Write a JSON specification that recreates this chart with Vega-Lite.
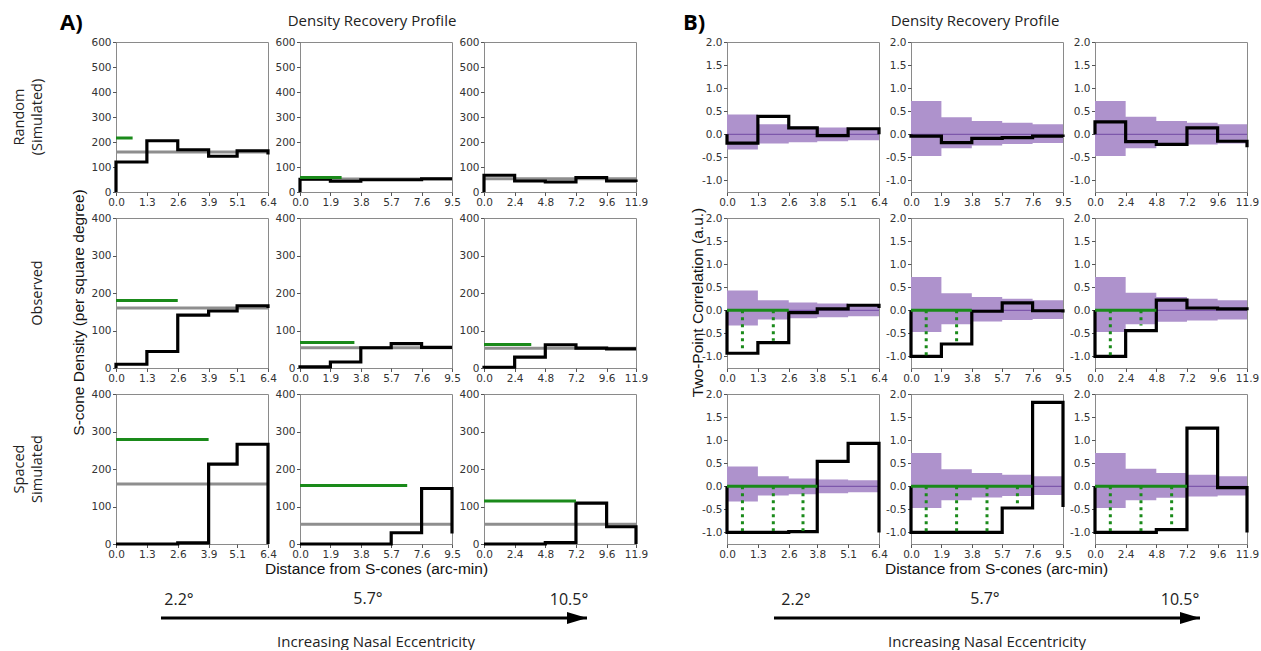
{
"$schema":"https://vega.github.io/schema/vega-lite/v6.json",
"padding":{"left":8,"top":11,"right":5,"bottom":0},
"background":"white",
"datasets":{
"line":[
{"p":"A11","i":0,"x":0,"y":0},{"p":"A11","i":1,"x":0,"y":120},{"p":"A11","i":2,"x":1.3,"y":205},{"p":"A11","i":3,"x":2.6,"y":169},{"p":"A11","i":4,"x":3.9,"y":143},{"p":"A11","i":5,"x":5.1,"y":165},{"p":"A11","i":6,"x":6.4,"y":150},
{"p":"A12","i":0,"x":0,"y":0},{"p":"A12","i":1,"x":0,"y":51},{"p":"A12","i":2,"x":1.9,"y":43},{"p":"A12","i":3,"x":3.8,"y":49},{"p":"A12","i":4,"x":5.7,"y":49},{"p":"A12","i":5,"x":7.6,"y":53},{"p":"A12","i":6,"x":9.5,"y":53},
{"p":"A13","i":0,"x":0,"y":0},{"p":"A13","i":1,"x":0,"y":67},{"p":"A13","i":2,"x":2.4,"y":44},{"p":"A13","i":3,"x":4.8,"y":40},{"p":"A13","i":4,"x":7.2,"y":58},{"p":"A13","i":5,"x":9.6,"y":44},{"p":"A13","i":6,"x":11.9,"y":40},
{"p":"A21","i":0,"x":0,"y":0},{"p":"A21","i":1,"x":0,"y":10},{"p":"A21","i":2,"x":1.3,"y":44},{"p":"A21","i":3,"x":2.6,"y":141},{"p":"A21","i":4,"x":3.9,"y":152},{"p":"A21","i":5,"x":5.1,"y":166},{"p":"A21","i":6,"x":6.4,"y":160},
{"p":"A22","i":0,"x":0,"y":0},{"p":"A22","i":1,"x":0,"y":3},{"p":"A22","i":2,"x":1.9,"y":16},{"p":"A22","i":3,"x":3.8,"y":54},{"p":"A22","i":4,"x":5.7,"y":65},{"p":"A22","i":5,"x":7.6,"y":55},{"p":"A22","i":6,"x":9.5,"y":55},
{"p":"A23","i":0,"x":0,"y":0},{"p":"A23","i":1,"x":0,"y":2},{"p":"A23","i":2,"x":2.4,"y":29},{"p":"A23","i":3,"x":4.8,"y":62},{"p":"A23","i":4,"x":7.2,"y":53},{"p":"A23","i":5,"x":9.6,"y":51},{"p":"A23","i":6,"x":11.9,"y":51},
{"p":"A31","i":0,"x":0,"y":0},{"p":"A31","i":1,"x":0,"y":0},{"p":"A31","i":2,"x":1.3,"y":0},{"p":"A31","i":3,"x":2.6,"y":3},{"p":"A31","i":4,"x":3.9,"y":213},{"p":"A31","i":5,"x":5.1,"y":266},{"p":"A31","i":6,"x":6.4,"y":0},
{"p":"A32","i":0,"x":0,"y":0},{"p":"A32","i":1,"x":0,"y":0},{"p":"A32","i":2,"x":1.9,"y":0},{"p":"A32","i":3,"x":3.8,"y":0},{"p":"A32","i":4,"x":5.7,"y":30},{"p":"A32","i":5,"x":7.6,"y":148},{"p":"A32","i":6,"x":9.5,"y":28},
{"p":"A33","i":0,"x":0,"y":0},{"p":"A33","i":1,"x":0,"y":0},{"p":"A33","i":2,"x":2.4,"y":0},{"p":"A33","i":3,"x":4.8,"y":4},{"p":"A33","i":4,"x":7.2,"y":109},{"p":"A33","i":5,"x":9.6,"y":46},{"p":"A33","i":6,"x":11.9,"y":0},
{"p":"B11","i":0,"x":0,"y":0},{"p":"B11","i":1,"x":0,"y":-0.19},{"p":"B11","i":2,"x":1.3,"y":0.39},{"p":"B11","i":3,"x":2.6,"y":0.14},{"p":"B11","i":4,"x":3.8,"y":-0.03},{"p":"B11","i":5,"x":5.1,"y":0.12},{"p":"B11","i":6,"x":6.4,"y":0},
{"p":"B12","i":0,"x":0,"y":0},{"p":"B12","i":1,"x":0,"y":-0.04},{"p":"B12","i":2,"x":1.9,"y":-0.18},{"p":"B12","i":3,"x":3.8,"y":-0.09},{"p":"B12","i":4,"x":5.7,"y":-0.07},{"p":"B12","i":5,"x":7.6,"y":-0.04},{"p":"B12","i":6,"x":9.5,"y":-0.06},
{"p":"B13","i":0,"x":0,"y":0},{"p":"B13","i":1,"x":0,"y":0.27},{"p":"B13","i":2,"x":2.4,"y":-0.16},{"p":"B13","i":3,"x":4.8,"y":-0.22},{"p":"B13","i":4,"x":7.2,"y":0.14},{"p":"B13","i":5,"x":9.6,"y":-0.15},{"p":"B13","i":6,"x":11.9,"y":-0.28},
{"p":"B21","i":0,"x":0,"y":0},{"p":"B21","i":1,"x":0,"y":-0.93},{"p":"B21","i":2,"x":1.3,"y":-0.7},{"p":"B21","i":3,"x":2.6,"y":-0.05},{"p":"B21","i":4,"x":3.8,"y":0.03},{"p":"B21","i":5,"x":5.1,"y":0.11},{"p":"B21","i":6,"x":6.4,"y":0.05},
{"p":"B22","i":0,"x":0,"y":0},{"p":"B22","i":1,"x":0,"y":-1},{"p":"B22","i":2,"x":1.9,"y":-0.73},{"p":"B22","i":3,"x":3.8,"y":-0.02},{"p":"B22","i":4,"x":5.7,"y":0.16},{"p":"B22","i":5,"x":7.6,"y":-0.01},{"p":"B22","i":6,"x":9.5,"y":-0.05},
{"p":"B23","i":0,"x":0,"y":0},{"p":"B23","i":1,"x":0,"y":-1},{"p":"B23","i":2,"x":2.4,"y":-0.44},{"p":"B23","i":3,"x":4.8,"y":0.22},{"p":"B23","i":4,"x":7.2,"y":0.05},{"p":"B23","i":5,"x":9.6,"y":0.03},{"p":"B23","i":6,"x":11.9,"y":0},
{"p":"B31","i":0,"x":0,"y":0},{"p":"B31","i":1,"x":0,"y":-1},{"p":"B31","i":2,"x":1.3,"y":-1},{"p":"B31","i":3,"x":2.6,"y":-0.98},{"p":"B31","i":4,"x":3.8,"y":0.54},{"p":"B31","i":5,"x":5.1,"y":0.93},{"p":"B31","i":6,"x":6.4,"y":-1},
{"p":"B32","i":0,"x":0,"y":0},{"p":"B32","i":1,"x":0,"y":-1},{"p":"B32","i":2,"x":1.9,"y":-1},{"p":"B32","i":3,"x":3.8,"y":-1},{"p":"B32","i":4,"x":5.7,"y":-0.47},{"p":"B32","i":5,"x":7.6,"y":1.82},{"p":"B32","i":6,"x":9.5,"y":-0.45},
{"p":"B33","i":0,"x":0,"y":0},{"p":"B33","i":1,"x":0,"y":-1},{"p":"B33","i":2,"x":2.4,"y":-1},{"p":"B33","i":3,"x":4.8,"y":-0.94},{"p":"B33","i":4,"x":7.2,"y":1.26},{"p":"B33","i":5,"x":9.6,"y":-0.03},{"p":"B33","i":6,"x":11.9,"y":-1}
],
"band":[
{"c":1,"x":0,"lo":-0.33,"hi":0.43},{"c":1,"x":1.3,"lo":-0.2,"hi":0.22},{"c":1,"x":2.6,"lo":-0.17,"hi":0.17},{"c":1,"x":3.8,"lo":-0.15,"hi":0.15},{"c":1,"x":5.1,"lo":-0.13,"hi":0.13},{"c":1,"x":6.4,"lo":-0.13,"hi":0.13},
{"c":2,"x":0,"lo":-0.47,"hi":0.72},{"c":2,"x":1.9,"lo":-0.3,"hi":0.37},{"c":2,"x":3.8,"lo":-0.24,"hi":0.29},{"c":2,"x":5.7,"lo":-0.21,"hi":0.25},{"c":2,"x":7.6,"lo":-0.19,"hi":0.22},{"c":2,"x":9.5,"lo":-0.19,"hi":0.22},
{"c":3,"x":0,"lo":-0.47,"hi":0.72},{"c":3,"x":2.4,"lo":-0.3,"hi":0.38},{"c":3,"x":4.8,"lo":-0.25,"hi":0.29},{"c":3,"x":7.2,"lo":-0.22,"hi":0.25},{"c":3,"x":9.6,"lo":-0.2,"hi":0.22},{"c":3,"x":11.9,"lo":-0.2,"hi":0.22}
],
"ref":[
{"p":"A11","y":160},{"p":"A12","y":52},{"p":"A13","y":53},{"p":"A21","y":160},{"p":"A22","y":54},{"p":"A23","y":53},{"p":"A31","y":160},{"p":"A32","y":53},{"p":"A33","y":53},
{"p":"B11","y":0},{"p":"B12","y":0},{"p":"B13","y":0},{"p":"B21","y":0},{"p":"B22","y":0},{"p":"B23","y":0},{"p":"B31","y":0},{"p":"B32","y":0},{"p":"B33","y":0}
],
"er":[
{"p":"A11","x0":0,"x1":0.7,"y":216},{"p":"A12","x0":0,"x1":2.6,"y":58},{"p":"A21","x0":0,"x1":2.6,"y":180},{"p":"A22","x0":0,"x1":3.4,"y":68},{"p":"A23","x0":0,"x1":3.7,"y":63},{"p":"A31","x0":0,"x1":3.9,"y":279},{"p":"A32","x0":0,"x1":6.7,"y":156},{"p":"A33","x0":0,"x1":7.2,"y":115},
{"p":"B21","x0":0,"x1":2.6,"y":0},{"p":"B22","x0":0,"x1":3.8,"y":0},{"p":"B23","x0":0,"x1":4.8,"y":0},{"p":"B31","x0":0,"x1":3.8,"y":0},{"p":"B32","x0":0,"x1":7.6,"y":0},{"p":"B33","x0":0,"x1":7.2,"y":0}
],
"dots":[
{"p":"B21","x":0.65,"y0":0,"y":-0.84},{"p":"B21","x":1.95,"y0":0,"y":-0.66},
{"p":"B22","x":0.95,"y0":0,"y":-0.98},{"p":"B22","x":2.85,"y0":0,"y":-0.68},
{"p":"B23","x":1.2,"y0":0,"y":-0.98},{"p":"B23","x":3.6,"y0":0,"y":-0.33},
{"p":"B31","x":0.65,"y0":0,"y":-0.97},{"p":"B31","x":1.95,"y0":0,"y":-0.97},{"p":"B31","x":3.2,"y0":0,"y":-0.97},
{"p":"B32","x":0.95,"y0":0,"y":-0.98},{"p":"B32","x":2.85,"y0":0,"y":-0.98},{"p":"B32","x":4.75,"y0":0,"y":-0.98},{"p":"B32","x":6.65,"y0":0,"y":-0.45},
{"p":"B33","x":1.2,"y0":0,"y":-0.97},{"p":"B33","x":3.6,"y0":0,"y":-0.97},{"p":"B33","x":6.0,"y0":0,"y":-0.85}
],
"rowlab":[{"r":1,"label":"Random\n(Simulated)"},{"r":2,"label":"Observed"},{"r":3,"label":"Spaced\nSimulated"}],
"foot":[{"part":"arrow","from":0,"to":1,"label":""},{"part":"caption","label":"Increasing Nasal Eccentricity"}]
},
"bounds":"flush",
"columns":8,
"spacing":{"row":26,"column":32},
"concat":[
{"width":76,"height":150,"view":{"stroke":null},"data":{"name":"rowlab"},"transform":[{"filter":"datum.r==1"}],"mark":{"type":"text","angle":270,"baseline":"bottom","align":"center","lineBreak":"\n","lineHeight":18,"dy":-19,"font":"Open Sans","fontSize":14.5,"color":"#222"},"encoding":{"text":{"field":"label"}}},
{"width":152,"height":150,"title":{"text":"A)","anchor":"start","frame":"group","dx":-56,"offset":2,"fontSize":22,"fontWeight":"bold","font":"Open Sans","color":"#000"},"layer":[
 {"data":{"name":"ref"},"transform":[{"filter":"datum.p=='A11'"}],"mark":{"type":"rule","color":"#8e8e8e","strokeWidth":3},"encoding":{"y":{"field":"y","type":"quantitative"}}},
 {"data":{"name":"line"},"transform":[{"filter":"datum.p=='A11'"}],"mark":{"type":"line","interpolate":"step-after","color":"#000","strokeWidth":3.2},"encoding":{"x":{"field":"x","type":"quantitative","scale":{"domain":[0,6.4],"nice":false,"zero":false},"axis":{"values":[0,1.3,2.6,3.9,5.1,6.4],"format":".1f","title":null}},"y":{"field":"y","type":"quantitative","scale":{"domain":[0,600],"nice":false},"axis":{"values":[0,100,200,300,400,500,600],"title":null}},"order":{"field":"i","type":"quantitative"}}},
 {"data":{"name":"er"},"transform":[{"filter":"datum.p=='A11'"}],"mark":{"type":"rule","color":"#1a8a1a","strokeWidth":3},"encoding":{"x":{"field":"x0","type":"quantitative"},"x2":{"field":"x1"},"y":{"field":"y","type":"quantitative"}}}
]},
{"width":152,"height":150,"title":{"text":"Density Recovery Profile","anchor":"middle","frame":"group","dx":-4,"offset":8},"layer":[
 {"data":{"name":"ref"},"transform":[{"filter":"datum.p=='A12'"}],"mark":{"type":"rule","color":"#8e8e8e","strokeWidth":3},"encoding":{"y":{"field":"y","type":"quantitative"}}},
 {"data":{"name":"line"},"transform":[{"filter":"datum.p=='A12'"}],"mark":{"type":"line","interpolate":"step-after","color":"#000","strokeWidth":3.2},"encoding":{"x":{"field":"x","type":"quantitative","scale":{"domain":[0,9.5],"nice":false,"zero":false},"axis":{"values":[0,1.9,3.8,5.7,7.6,9.5],"format":".1f","title":null}},"y":{"field":"y","type":"quantitative","scale":{"domain":[0,600],"nice":false},"axis":{"values":[0,100,200,300,400,500,600],"title":null}},"order":{"field":"i","type":"quantitative"}}},
 {"data":{"name":"er"},"transform":[{"filter":"datum.p=='A12'"}],"mark":{"type":"rule","color":"#1a8a1a","strokeWidth":3},"encoding":{"x":{"field":"x0","type":"quantitative"},"x2":{"field":"x1"},"y":{"field":"y","type":"quantitative"}}}
]},
{"width":152,"height":150,"layer":[
 {"data":{"name":"ref"},"transform":[{"filter":"datum.p=='A13'"}],"mark":{"type":"rule","color":"#8e8e8e","strokeWidth":3},"encoding":{"y":{"field":"y","type":"quantitative"}}},
 {"data":{"name":"line"},"transform":[{"filter":"datum.p=='A13'"}],"mark":{"type":"line","interpolate":"step-after","color":"#000","strokeWidth":3.2},"encoding":{"x":{"field":"x","type":"quantitative","scale":{"domain":[0,11.9],"nice":false,"zero":false},"axis":{"values":[0,2.4,4.8,7.2,9.6,11.9],"format":".1f","title":null}},"y":{"field":"y","type":"quantitative","scale":{"domain":[0,600],"nice":false},"axis":{"values":[0,100,200,300,400,500,600],"title":null}},"order":{"field":"i","type":"quantitative"}}}
]},
{"width":27,"height":150,"view":{"stroke":null},"data":{"values":[]},"mark":"point"},
{"width":152,"height":150,"title":{"text":"B)","anchor":"start","frame":"group","dx":-44,"offset":2,"fontSize":22,"fontWeight":"bold","font":"Open Sans","color":"#000"},"layer":[
 {"data":{"name":"band"},"transform":[{"filter":"datum.c==1"}],"mark":{"type":"area","interpolate":"step-after","color":"#ae92cc","opacity":1},"encoding":{"x":{"field":"x","type":"quantitative","scale":{"domain":[0,6.4],"nice":false,"zero":false},"axis":{"values":[0,1.3,2.6,3.8,5.1,6.4],"format":".1f","title":null}},"y":{"field":"lo","type":"quantitative","scale":{"domain":[-1.25,2],"nice":false,"zero":false},"axis":{"values":[-1,-0.5,0,0.5,1,1.5,2],"format":".1f","labelExpr":"replace(datum.label,'\u2212','-')","title":null}},"y2":{"field":"hi"}}},
 {"data":{"name":"ref"},"transform":[{"filter":"datum.p=='B11'"}],"mark":{"type":"rule","color":"#7d57ab","strokeWidth":1.2},"encoding":{"y":{"field":"y","type":"quantitative"}}},
 {"data":{"name":"line"},"transform":[{"filter":"datum.p=='B11'"}],"mark":{"type":"line","interpolate":"step-after","color":"#000","strokeWidth":3.2},"encoding":{"x":{"field":"x","type":"quantitative"},"y":{"field":"y","type":"quantitative"},"order":{"field":"i","type":"quantitative"}}}
]},
{"width":152,"height":150,"title":{"text":"Density Recovery Profile","anchor":"middle","frame":"group","dx":-12,"offset":8},"layer":[
 {"data":{"name":"band"},"transform":[{"filter":"datum.c==2"}],"mark":{"type":"area","interpolate":"step-after","color":"#ae92cc","opacity":1},"encoding":{"x":{"field":"x","type":"quantitative","scale":{"domain":[0,9.5],"nice":false,"zero":false},"axis":{"values":[0,1.9,3.8,5.7,7.6,9.5],"format":".1f","title":null}},"y":{"field":"lo","type":"quantitative","scale":{"domain":[-1.25,2],"nice":false,"zero":false},"axis":{"values":[-1,-0.5,0,0.5,1,1.5,2],"format":".1f","labelExpr":"replace(datum.label,'\u2212','-')","title":null}},"y2":{"field":"hi"}}},
 {"data":{"name":"ref"},"transform":[{"filter":"datum.p=='B12'"}],"mark":{"type":"rule","color":"#7d57ab","strokeWidth":1.2},"encoding":{"y":{"field":"y","type":"quantitative"}}},
 {"data":{"name":"line"},"transform":[{"filter":"datum.p=='B12'"}],"mark":{"type":"line","interpolate":"step-after","color":"#000","strokeWidth":3.2},"encoding":{"x":{"field":"x","type":"quantitative"},"y":{"field":"y","type":"quantitative"},"order":{"field":"i","type":"quantitative"}}}
]},
{"width":152,"height":150,"layer":[
 {"data":{"name":"band"},"transform":[{"filter":"datum.c==3"}],"mark":{"type":"area","interpolate":"step-after","color":"#ae92cc","opacity":1},"encoding":{"x":{"field":"x","type":"quantitative","scale":{"domain":[0,11.9],"nice":false,"zero":false},"axis":{"values":[0,2.4,4.8,7.2,9.6,11.9],"format":".1f","title":null}},"y":{"field":"lo","type":"quantitative","scale":{"domain":[-1.25,2],"nice":false,"zero":false},"axis":{"values":[-1,-0.5,0,0.5,1,1.5,2],"format":".1f","labelExpr":"replace(datum.label,'\u2212','-')","title":null}},"y2":{"field":"hi"}}},
 {"data":{"name":"ref"},"transform":[{"filter":"datum.p=='B13'"}],"mark":{"type":"rule","color":"#7d57ab","strokeWidth":1.2},"encoding":{"y":{"field":"y","type":"quantitative"}}},
 {"data":{"name":"line"},"transform":[{"filter":"datum.p=='B13'"}],"mark":{"type":"line","interpolate":"step-after","color":"#000","strokeWidth":3.2},"encoding":{"x":{"field":"x","type":"quantitative"},"y":{"field":"y","type":"quantitative"},"order":{"field":"i","type":"quantitative"}}}
]},

{"width":76,"height":150,"view":{"stroke":null},"data":{"name":"rowlab"},"transform":[{"filter":"datum.r==2"}],"mark":{"type":"text","angle":270,"baseline":"bottom","align":"center","lineBreak":"\n","lineHeight":18,"dy":-1,"font":"Open Sans","fontSize":14.5,"color":"#222"},"encoding":{"text":{"field":"label"}}},
{"width":152,"height":150,"layer":[
 {"data":{"name":"ref"},"transform":[{"filter":"datum.p=='A21'"}],"mark":{"type":"rule","color":"#8e8e8e","strokeWidth":3},"encoding":{"y":{"field":"y","type":"quantitative"}}},
 {"data":{"name":"line"},"transform":[{"filter":"datum.p=='A21'"}],"mark":{"type":"line","interpolate":"step-after","color":"#000","strokeWidth":3.2},"encoding":{"x":{"field":"x","type":"quantitative","scale":{"domain":[0,6.4],"nice":false,"zero":false},"axis":{"values":[0,1.3,2.6,3.9,5.1,6.4],"format":".1f","title":null}},"y":{"field":"y","type":"quantitative","scale":{"domain":[0,400],"nice":false},"axis":{"values":[0,100,200,300,400],"title":"S-cone Density (per square degree)","titleX":-38,"titleY":94,"titleBaseline":"middle"}},"order":{"field":"i","type":"quantitative"}}},
 {"data":{"name":"er"},"transform":[{"filter":"datum.p=='A21'"}],"mark":{"type":"rule","color":"#1a8a1a","strokeWidth":3},"encoding":{"x":{"field":"x0","type":"quantitative"},"x2":{"field":"x1"},"y":{"field":"y","type":"quantitative"}}}
]},
{"width":152,"height":150,"layer":[
 {"data":{"name":"ref"},"transform":[{"filter":"datum.p=='A22'"}],"mark":{"type":"rule","color":"#8e8e8e","strokeWidth":3},"encoding":{"y":{"field":"y","type":"quantitative"}}},
 {"data":{"name":"line"},"transform":[{"filter":"datum.p=='A22'"}],"mark":{"type":"line","interpolate":"step-after","color":"#000","strokeWidth":3.2},"encoding":{"x":{"field":"x","type":"quantitative","scale":{"domain":[0,9.5],"nice":false,"zero":false},"axis":{"values":[0,1.9,3.8,5.7,7.6,9.5],"format":".1f","title":null}},"y":{"field":"y","type":"quantitative","scale":{"domain":[0,400],"nice":false},"axis":{"values":[0,100,200,300,400],"title":null}},"order":{"field":"i","type":"quantitative"}}},
 {"data":{"name":"er"},"transform":[{"filter":"datum.p=='A22'"}],"mark":{"type":"rule","color":"#1a8a1a","strokeWidth":3},"encoding":{"x":{"field":"x0","type":"quantitative"},"x2":{"field":"x1"},"y":{"field":"y","type":"quantitative"}}}
]},
{"width":152,"height":150,"layer":[
 {"data":{"name":"ref"},"transform":[{"filter":"datum.p=='A23'"}],"mark":{"type":"rule","color":"#8e8e8e","strokeWidth":3},"encoding":{"y":{"field":"y","type":"quantitative"}}},
 {"data":{"name":"line"},"transform":[{"filter":"datum.p=='A23'"}],"mark":{"type":"line","interpolate":"step-after","color":"#000","strokeWidth":3.2},"encoding":{"x":{"field":"x","type":"quantitative","scale":{"domain":[0,11.9],"nice":false,"zero":false},"axis":{"values":[0,2.4,4.8,7.2,9.6,11.9],"format":".1f","title":null}},"y":{"field":"y","type":"quantitative","scale":{"domain":[0,400],"nice":false},"axis":{"values":[0,100,200,300,400],"title":null}},"order":{"field":"i","type":"quantitative"}}},
 {"data":{"name":"er"},"transform":[{"filter":"datum.p=='A23'"}],"mark":{"type":"rule","color":"#1a8a1a","strokeWidth":3},"encoding":{"x":{"field":"x0","type":"quantitative"},"x2":{"field":"x1"},"y":{"field":"y","type":"quantitative"}}}
]},
{"width":27,"height":150,"view":{"stroke":null},"data":{"values":[]},"mark":"point"},
{"width":152,"height":150,"layer":[
 {"data":{"name":"band"},"transform":[{"filter":"datum.c==1"}],"mark":{"type":"area","interpolate":"step-after","color":"#ae92cc","opacity":1},"encoding":{"x":{"field":"x","type":"quantitative","scale":{"domain":[0,6.4],"nice":false,"zero":false},"axis":{"values":[0,1.3,2.6,3.8,5.1,6.4],"format":".1f","title":null}},"y":{"field":"lo","type":"quantitative","scale":{"domain":[-1.25,2],"nice":false,"zero":false},"axis":{"values":[-1,-0.5,0,0.5,1,1.5,2],"format":".1f","labelExpr":"replace(datum.label,'\u2212','-')","title":"Two-Point Correlation (a.u.)","titleX":-30,"titleY":84,"titleBaseline":"middle"}},"y2":{"field":"hi"}}},
 {"data":{"name":"ref"},"transform":[{"filter":"datum.p=='B21'"}],"mark":{"type":"rule","color":"#7d57ab","strokeWidth":1.2},"encoding":{"y":{"field":"y","type":"quantitative"}}},
 {"data":{"name":"line"},"transform":[{"filter":"datum.p=='B21'"}],"mark":{"type":"line","interpolate":"step-after","color":"#000","strokeWidth":3.2},"encoding":{"x":{"field":"x","type":"quantitative"},"y":{"field":"y","type":"quantitative"},"order":{"field":"i","type":"quantitative"}}},
 {"data":{"name":"er"},"transform":[{"filter":"datum.p=='B21'"}],"mark":{"type":"rule","color":"#1a8a1a","strokeWidth":3},"encoding":{"x":{"field":"x0","type":"quantitative"},"x2":{"field":"x1"},"y":{"field":"y","type":"quantitative"}}},
 {"data":{"name":"dots"},"transform":[{"filter":"datum.p=='B21'"}],"mark":{"type":"rule","color":"#1a8a1a","strokeWidth":3,"strokeDash":[3,4]},"encoding":{"x":{"field":"x","type":"quantitative"},"y":{"field":"y0","type":"quantitative"},"y2":{"field":"y"}}}
]},
{"width":152,"height":150,"layer":[
 {"data":{"name":"band"},"transform":[{"filter":"datum.c==2"}],"mark":{"type":"area","interpolate":"step-after","color":"#ae92cc","opacity":1},"encoding":{"x":{"field":"x","type":"quantitative","scale":{"domain":[0,9.5],"nice":false,"zero":false},"axis":{"values":[0,1.9,3.8,5.7,7.6,9.5],"format":".1f","title":null}},"y":{"field":"lo","type":"quantitative","scale":{"domain":[-1.25,2],"nice":false,"zero":false},"axis":{"values":[-1,-0.5,0,0.5,1,1.5,2],"format":".1f","labelExpr":"replace(datum.label,'\u2212','-')","title":null}},"y2":{"field":"hi"}}},
 {"data":{"name":"ref"},"transform":[{"filter":"datum.p=='B22'"}],"mark":{"type":"rule","color":"#7d57ab","strokeWidth":1.2},"encoding":{"y":{"field":"y","type":"quantitative"}}},
 {"data":{"name":"line"},"transform":[{"filter":"datum.p=='B22'"}],"mark":{"type":"line","interpolate":"step-after","color":"#000","strokeWidth":3.2},"encoding":{"x":{"field":"x","type":"quantitative"},"y":{"field":"y","type":"quantitative"},"order":{"field":"i","type":"quantitative"}}},
 {"data":{"name":"er"},"transform":[{"filter":"datum.p=='B22'"}],"mark":{"type":"rule","color":"#1a8a1a","strokeWidth":3},"encoding":{"x":{"field":"x0","type":"quantitative"},"x2":{"field":"x1"},"y":{"field":"y","type":"quantitative"}}},
 {"data":{"name":"dots"},"transform":[{"filter":"datum.p=='B22'"}],"mark":{"type":"rule","color":"#1a8a1a","strokeWidth":3,"strokeDash":[3,4]},"encoding":{"x":{"field":"x","type":"quantitative"},"y":{"field":"y0","type":"quantitative"},"y2":{"field":"y"}}}
]},
{"width":152,"height":150,"layer":[
 {"data":{"name":"band"},"transform":[{"filter":"datum.c==3"}],"mark":{"type":"area","interpolate":"step-after","color":"#ae92cc","opacity":1},"encoding":{"x":{"field":"x","type":"quantitative","scale":{"domain":[0,11.9],"nice":false,"zero":false},"axis":{"values":[0,2.4,4.8,7.2,9.6,11.9],"format":".1f","title":null}},"y":{"field":"lo","type":"quantitative","scale":{"domain":[-1.25,2],"nice":false,"zero":false},"axis":{"values":[-1,-0.5,0,0.5,1,1.5,2],"format":".1f","labelExpr":"replace(datum.label,'\u2212','-')","title":null}},"y2":{"field":"hi"}}},
 {"data":{"name":"ref"},"transform":[{"filter":"datum.p=='B23'"}],"mark":{"type":"rule","color":"#7d57ab","strokeWidth":1.2},"encoding":{"y":{"field":"y","type":"quantitative"}}},
 {"data":{"name":"line"},"transform":[{"filter":"datum.p=='B23'"}],"mark":{"type":"line","interpolate":"step-after","color":"#000","strokeWidth":3.2},"encoding":{"x":{"field":"x","type":"quantitative"},"y":{"field":"y","type":"quantitative"},"order":{"field":"i","type":"quantitative"}}},
 {"data":{"name":"er"},"transform":[{"filter":"datum.p=='B23'"}],"mark":{"type":"rule","color":"#1a8a1a","strokeWidth":3},"encoding":{"x":{"field":"x0","type":"quantitative"},"x2":{"field":"x1"},"y":{"field":"y","type":"quantitative"}}},
 {"data":{"name":"dots"},"transform":[{"filter":"datum.p=='B23'"}],"mark":{"type":"rule","color":"#1a8a1a","strokeWidth":3,"strokeDash":[3,4]},"encoding":{"x":{"field":"x","type":"quantitative"},"y":{"field":"y0","type":"quantitative"},"y2":{"field":"y"}}}
]},

{"width":76,"height":150,"view":{"stroke":null},"data":{"name":"rowlab"},"transform":[{"filter":"datum.r==3"}],"mark":{"type":"text","angle":270,"baseline":"bottom","align":"center","lineBreak":"\n","lineHeight":18,"dy":-19,"font":"Open Sans","fontSize":14.5,"color":"#222"},"encoding":{"text":{"field":"label"}}},
{"width":152,"height":150,"title":{"text":"2.2°","orient":"bottom","anchor":"middle","frame":"group","dx":-13,"offset":32,"font":"Open Sans","fontSize":16},"layer":[
 {"data":{"name":"ref"},"transform":[{"filter":"datum.p=='A31'"}],"mark":{"type":"rule","color":"#8e8e8e","strokeWidth":3},"encoding":{"y":{"field":"y","type":"quantitative"}}},
 {"data":{"name":"er"},"transform":[{"filter":"datum.p=='A31'"}],"mark":{"type":"rule","color":"#1a8a1a","strokeWidth":3},"encoding":{"x":{"field":"x0","type":"quantitative"},"x2":{"field":"x1"},"y":{"field":"y","type":"quantitative"}}},
 {"data":{"name":"line"},"transform":[{"filter":"datum.p=='A31'"}],"mark":{"type":"line","interpolate":"step-after","color":"#000","strokeWidth":3.2},"encoding":{"x":{"field":"x","type":"quantitative","scale":{"domain":[0,6.4],"nice":false,"zero":false},"axis":{"values":[0,1.3,2.6,3.9,5.1,6.4],"format":".1f","title":null}},"y":{"field":"y","type":"quantitative","scale":{"domain":[0,400],"nice":false},"axis":{"values":[0,100,200,300,400],"title":null}},"order":{"field":"i","type":"quantitative"}}}
]},
{"width":152,"height":150,"title":{"text":"5.7°","orient":"bottom","anchor":"middle","frame":"group","dx":-8,"offset":14,"font":"Open Sans","fontSize":16},"layer":[
 {"data":{"name":"ref"},"transform":[{"filter":"datum.p=='A32'"}],"mark":{"type":"rule","color":"#8e8e8e","strokeWidth":3},"encoding":{"y":{"field":"y","type":"quantitative"}}},
 {"data":{"name":"er"},"transform":[{"filter":"datum.p=='A32'"}],"mark":{"type":"rule","color":"#1a8a1a","strokeWidth":3},"encoding":{"x":{"field":"x0","type":"quantitative"},"x2":{"field":"x1"},"y":{"field":"y","type":"quantitative"}}},
 {"data":{"name":"line"},"transform":[{"filter":"datum.p=='A32'"}],"mark":{"type":"line","interpolate":"step-after","color":"#000","strokeWidth":3.2},"encoding":{"x":{"field":"x","type":"quantitative","scale":{"domain":[0,9.5],"nice":false,"zero":false},"axis":{"values":[0,1.9,3.8,5.7,7.6,9.5],"format":".1f","title":"Distance from S-cones (arc-min)"}},"y":{"field":"y","type":"quantitative","scale":{"domain":[0,400],"nice":false},"axis":{"values":[0,100,200,300,400],"title":null}},"order":{"field":"i","type":"quantitative"}}}
]},
{"width":152,"height":150,"title":{"text":"10.5°","orient":"bottom","anchor":"middle","frame":"group","dx":9,"offset":32,"font":"Open Sans","fontSize":16},"layer":[
 {"data":{"name":"ref"},"transform":[{"filter":"datum.p=='A33'"}],"mark":{"type":"rule","color":"#8e8e8e","strokeWidth":3},"encoding":{"y":{"field":"y","type":"quantitative"}}},
 {"data":{"name":"line"},"transform":[{"filter":"datum.p=='A33'"}],"mark":{"type":"line","interpolate":"step-after","color":"#000","strokeWidth":3.2},"encoding":{"x":{"field":"x","type":"quantitative","scale":{"domain":[0,11.9],"nice":false,"zero":false},"axis":{"values":[0,2.4,4.8,7.2,9.6,11.9],"format":".1f","title":null}},"y":{"field":"y","type":"quantitative","scale":{"domain":[0,400],"nice":false},"axis":{"values":[0,100,200,300,400],"title":null}},"order":{"field":"i","type":"quantitative"}}},
 {"data":{"name":"er"},"transform":[{"filter":"datum.p=='A33'"}],"mark":{"type":"rule","color":"#1a8a1a","strokeWidth":3},"encoding":{"x":{"field":"x0","type":"quantitative"},"x2":{"field":"x1"},"y":{"field":"y","type":"quantitative"}}}
]},
{"width":27,"height":150,"view":{"stroke":null},"data":{"values":[]},"mark":"point"},
{"width":152,"height":150,"title":{"text":"2.2°","orient":"bottom","anchor":"middle","frame":"group","dx":-7,"offset":32,"font":"Open Sans","fontSize":16},"layer":[
 {"data":{"name":"band"},"transform":[{"filter":"datum.c==1"}],"mark":{"type":"area","interpolate":"step-after","color":"#ae92cc","opacity":1},"encoding":{"x":{"field":"x","type":"quantitative","scale":{"domain":[0,6.4],"nice":false,"zero":false},"axis":{"values":[0,1.3,2.6,3.8,5.1,6.4],"format":".1f","title":null}},"y":{"field":"lo","type":"quantitative","scale":{"domain":[-1.25,2],"nice":false,"zero":false},"axis":{"values":[-1,-0.5,0,0.5,1,1.5,2],"format":".1f","labelExpr":"replace(datum.label,'\u2212','-')","title":null}},"y2":{"field":"hi"}}},
 {"data":{"name":"ref"},"transform":[{"filter":"datum.p=='B31'"}],"mark":{"type":"rule","color":"#7d57ab","strokeWidth":1.2},"encoding":{"y":{"field":"y","type":"quantitative"}}},
 {"data":{"name":"line"},"transform":[{"filter":"datum.p=='B31'"}],"mark":{"type":"line","interpolate":"step-after","color":"#000","strokeWidth":3.2},"encoding":{"x":{"field":"x","type":"quantitative"},"y":{"field":"y","type":"quantitative"},"order":{"field":"i","type":"quantitative"}}},
 {"data":{"name":"er"},"transform":[{"filter":"datum.p=='B31'"}],"mark":{"type":"rule","color":"#1a8a1a","strokeWidth":3},"encoding":{"x":{"field":"x0","type":"quantitative"},"x2":{"field":"x1"},"y":{"field":"y","type":"quantitative"}}},
 {"data":{"name":"dots"},"transform":[{"filter":"datum.p=='B31'"}],"mark":{"type":"rule","color":"#1a8a1a","strokeWidth":3,"strokeDash":[3,4]},"encoding":{"x":{"field":"x","type":"quantitative"},"y":{"field":"y0","type":"quantitative"},"y2":{"field":"y"}}}
]},
{"width":152,"height":150,"title":{"text":"5.7°","orient":"bottom","anchor":"middle","frame":"group","dx":-2,"offset":14,"font":"Open Sans","fontSize":16},"layer":[
 {"data":{"name":"band"},"transform":[{"filter":"datum.c==2"}],"mark":{"type":"area","interpolate":"step-after","color":"#ae92cc","opacity":1},"encoding":{"x":{"field":"x","type":"quantitative","scale":{"domain":[0,9.5],"nice":false,"zero":false},"axis":{"values":[0,1.9,3.8,5.7,7.6,9.5],"format":".1f","title":"Distance from S-cones (arc-min)","titleX":85}},"y":{"field":"lo","type":"quantitative","scale":{"domain":[-1.25,2],"nice":false,"zero":false},"axis":{"values":[-1,-0.5,0,0.5,1,1.5,2],"format":".1f","labelExpr":"replace(datum.label,'\u2212','-')","title":null}},"y2":{"field":"hi"}}},
 {"data":{"name":"ref"},"transform":[{"filter":"datum.p=='B32'"}],"mark":{"type":"rule","color":"#7d57ab","strokeWidth":1.2},"encoding":{"y":{"field":"y","type":"quantitative"}}},
 {"data":{"name":"line"},"transform":[{"filter":"datum.p=='B32'"}],"mark":{"type":"line","interpolate":"step-after","color":"#000","strokeWidth":3.2},"encoding":{"x":{"field":"x","type":"quantitative"},"y":{"field":"y","type":"quantitative"},"order":{"field":"i","type":"quantitative"}}},
 {"data":{"name":"er"},"transform":[{"filter":"datum.p=='B32'"}],"mark":{"type":"rule","color":"#1a8a1a","strokeWidth":3},"encoding":{"x":{"field":"x0","type":"quantitative"},"x2":{"field":"x1"},"y":{"field":"y","type":"quantitative"}}},
 {"data":{"name":"dots"},"transform":[{"filter":"datum.p=='B32'"}],"mark":{"type":"rule","color":"#1a8a1a","strokeWidth":3,"strokeDash":[3,4]},"encoding":{"x":{"field":"x","type":"quantitative"},"y":{"field":"y0","type":"quantitative"},"y2":{"field":"y"}}}
]},
{"width":152,"height":150,"title":{"text":"10.5°","orient":"bottom","anchor":"middle","frame":"group","dx":9,"offset":32,"font":"Open Sans","fontSize":16},"layer":[
 {"data":{"name":"band"},"transform":[{"filter":"datum.c==3"}],"mark":{"type":"area","interpolate":"step-after","color":"#ae92cc","opacity":1},"encoding":{"x":{"field":"x","type":"quantitative","scale":{"domain":[0,11.9],"nice":false,"zero":false},"axis":{"values":[0,2.4,4.8,7.2,9.6,11.9],"format":".1f","title":null}},"y":{"field":"lo","type":"quantitative","scale":{"domain":[-1.25,2],"nice":false,"zero":false},"axis":{"values":[-1,-0.5,0,0.5,1,1.5,2],"format":".1f","labelExpr":"replace(datum.label,'\u2212','-')","title":null}},"y2":{"field":"hi"}}},
 {"data":{"name":"ref"},"transform":[{"filter":"datum.p=='B33'"}],"mark":{"type":"rule","color":"#7d57ab","strokeWidth":1.2},"encoding":{"y":{"field":"y","type":"quantitative"}}},
 {"data":{"name":"line"},"transform":[{"filter":"datum.p=='B33'"}],"mark":{"type":"line","interpolate":"step-after","color":"#000","strokeWidth":3.2},"encoding":{"x":{"field":"x","type":"quantitative"},"y":{"field":"y","type":"quantitative"},"order":{"field":"i","type":"quantitative"}}},
 {"data":{"name":"er"},"transform":[{"filter":"datum.p=='B33'"}],"mark":{"type":"rule","color":"#1a8a1a","strokeWidth":3},"encoding":{"x":{"field":"x0","type":"quantitative"},"x2":{"field":"x1"},"y":{"field":"y","type":"quantitative"}}},
 {"data":{"name":"dots"},"transform":[{"filter":"datum.p=='B33'"}],"mark":{"type":"rule","color":"#1a8a1a","strokeWidth":3,"strokeDash":[3,4]},"encoding":{"x":{"field":"x","type":"quantitative"},"y":{"field":"y0","type":"quantitative"},"y2":{"field":"y"}}}
]},

{"width":76,"height":72,"view":{"stroke":null},"data":{"values":[]},"mark":"point"},
{"width":152,"height":72,"view":{"stroke":null},"data":{"values":[]},"mark":"point"},
{"width":152,"height":72,"view":{"stroke":null},"data":{"name":"foot"},"layer":[
 {"transform":[{"filter":"datum.part=='arrow'"}],"mark":{"type":"rule","strokeWidth":3,"color":"#000"},"encoding":{"x":{"field":"from","type":"quantitative","scale":{"domain":[0.3263,0.6831],"nice":false,"zero":false},"axis":null},"x2":{"field":"to"},"y":{"field":"part","type":"nominal","scale":{"type":"point","domain":["arrow","caption"],"padding":1.3,"align":1},"axis":null}}},
 {"transform":[{"filter":"datum.part=='arrow'"}],"mark":{"type":"point","shape":"M-2,-0.6L0,0L-2,0.6Z","size":400,"filled":true,"color":"#000","opacity":1},"encoding":{"x":{"field":"to","type":"quantitative"},"y":{"field":"part","type":"nominal"}}},
 {"transform":[{"filter":"datum.part=='caption'"}],"mark":{"type":"text","font":"Open Sans","fontSize":15,"color":"#222"},"encoding":{"y":{"field":"part","type":"nominal"},"text":{"field":"label"}}}
]},
{"width":152,"height":72,"view":{"stroke":null},"data":{"values":[]},"mark":"point"},
{"width":27,"height":72,"view":{"stroke":null},"data":{"values":[]},"mark":"point"},
{"width":152,"height":72,"view":{"stroke":null},"data":{"values":[]},"mark":"point"},
{"width":152,"height":72,"view":{"stroke":null},"data":{"name":"foot"},"layer":[
 {"transform":[{"filter":"datum.part=='arrow'"}],"mark":{"type":"rule","strokeWidth":3,"color":"#000"},"encoding":{"x":{"field":"from","type":"quantitative","scale":{"domain":[0.3216,0.6784],"nice":false,"zero":false},"axis":null},"x2":{"field":"to"},"y":{"field":"part","type":"nominal","scale":{"type":"point","domain":["arrow","caption"],"padding":1.3,"align":1},"axis":null}}},
 {"transform":[{"filter":"datum.part=='arrow'"}],"mark":{"type":"point","shape":"M-2,-0.6L0,0L-2,0.6Z","size":400,"filled":true,"color":"#000","opacity":1},"encoding":{"x":{"field":"to","type":"quantitative"},"y":{"field":"part","type":"nominal"}}},
 {"transform":[{"filter":"datum.part=='caption'"}],"mark":{"type":"text","font":"Open Sans","fontSize":15,"color":"#222"},"encoding":{"y":{"field":"part","type":"nominal"},"text":{"field":"label"}}}
]}
],
"config":{
 "view":{"stroke":"#8a8a8a","strokeWidth":1},
 "axis":{"domain":false,"grid":false,"tickCount":20,"labelFont":"DejaVu Sans","labelFontSize":10.5,"labelColor":"#333","tickColor":"#555","tickSize":3.5,"labelPadding":1.5,"labelFlush":false,"labelOverlap":false,"titleFont":"Liberation Sans","titleFontSize":15.5,"titleFontWeight":"normal","titleColor":"#111","titlePadding":2},
 "title":{"font":"Open Sans","fontSize":15,"fontWeight":"normal","color":"#222"}
}
}
